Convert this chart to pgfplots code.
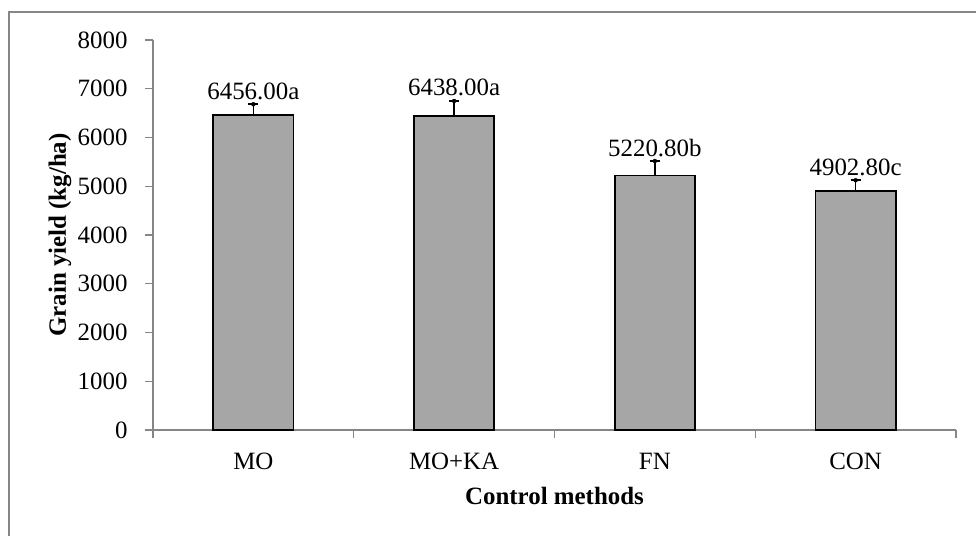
\documentclass[border=0pt]{standalone}
\usepackage{pgfplots}
\pgfplotsset{compat=1.18}
\usepackage{pgfplotstable}
\usepackage{fontspec}
\setmainfont{Liberation Serif}
\definecolor{axgray}{HTML}{868686}
\definecolor{barfill}{HTML}{A6A6A6}
\pgfplotstableread{
x y err lab
0 6456 225 6456.00a
1 6438 311 6438.00a
2 5220.8 297 5220.80b
3 4902.8 220 4902.80c
}\data
\begin{document}
\begin{tikzpicture}[x=1bp,y=1bp]
\useasboundingbox (0,0) rectangle (976,536);
\draw[axgray, line width=1.2bp] (9,-5) -- (9,524) -- (981,524);
\begin{axis}[
  at={(153bp,106bp)}, anchor=south west,
  scale only axis, width=803bp, height=390bp,
  xmin=-0.5, xmax=3.5, ymin=0, ymax=8000,
  axis x line=bottom, axis y line=left,
  axis line style={axgray, line width=1.2bp, -},
  every tick/.style={axgray, line width=1.2bp},
  tick align=outside,
  major tick length=8bp,
  xtick={-0.5,0.5,1.5,2.5,3.5}, xticklabels={,,,,,},
  extra x ticks={0,1,2,3},
  extra x tick labels={MO,MO+KA,FN,CON},
  extra x tick style={major tick length=0pt, tick label style={anchor=base, yshift=-40bp}},
  ytick={0,1000,...,8000},
  /pgf/number format/assume math mode=true,
  /pgf/number format/set thousands separator={},
  tick label style={font=\fontsize{25}{30}\selectfont, text=black},
  yticklabel style={xshift=-14bp},
  every axis y label/.style={at={(axis description cs:-0.1158,0.5)}, anchor=center, rotate=90, font=\fontsize{25}{30}\selectfont\bfseries},
  every axis x label/.style={at={(axis description cs:0.5,-0.191)}, anchor=base, font=\fontsize{25}{30}\selectfont\bfseries},
  ylabel={Grain yield (kg/ha)},
  xlabel={Control methods},
  clip=false,
]
\addplot[ybar, bar width=0.4, fill=barfill, draw=black, line width=1.6bp,
  error bars/.cd, y dir=plus, y explicit,
  error bar style={line width=1.6bp, black},
  error mark options={line width=1.6bp, black, mark size=5bp, rotate=90}]
  table[x=x, y=y, y error=err]{\data};
\addplot[only marks, mark=*, mark options={draw=none, fill=none},
  nodes near coords, point meta=explicit symbolic,
  nodes near coords style={anchor=base, yshift=5bp, inner sep=0pt, font=\fontsize{25}{30}\selectfont, text=black}]
  table[x=x, y expr=\thisrow{y}+\thisrow{err}, meta=lab]{\data};
\end{axis}
\end{tikzpicture}
\end{document}
